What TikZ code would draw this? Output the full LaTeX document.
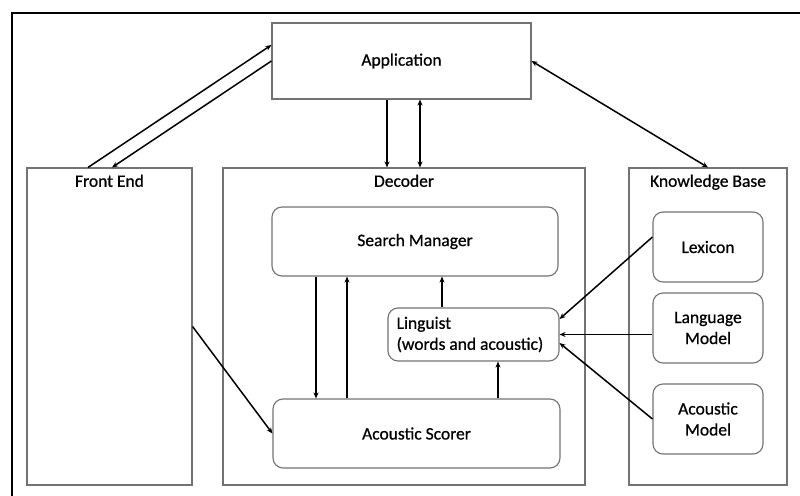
\documentclass[tikz,border=0pt]{standalone}
\usepackage{fontspec}
\setmainfont{Carlito}
\newfontfamily\diafont{Carlito}[FakeBold=0.7]
\usetikzlibrary{arrows.meta,calc}
\begin{document}
\begin{tikzpicture}[x=1pt,y=-1pt,
  every node/.style={font=\diafont\fontsize{17.5}{21}\selectfont, text=black},
  gbox/.style={draw=black!55, line width=1.1pt, inner sep=0pt},
  rbox/.style={gbox, rounded corners=10pt},
  lbl/.style={anchor=north, inner sep=0pt},
  arr/.style={draw=black, line width=1.5pt, -{Stealth[length=6pt,width=5pt]}},
  barr/.style={draw=black, line width=1.5pt, {Stealth[length=6pt,width=5pt]}-{Stealth[length=6pt,width=5pt]}}
]
\useasboundingbox (0,0) rectangle (800,495);
\fill[white] (0,0) rectangle (800,495);
% outer frame
\draw[line width=2pt] (12,497) -- (12,13) -- (802,13);

% containers
\node[gbox, minimum width=259pt, minimum height=76pt] (app) at (401.5,61) {Application};
\node[gbox, minimum width=165pt, minimum height=317pt] (fe) at (109.5,326.5) {};
\node[gbox, minimum width=362pt, minimum height=317pt] (dec) at (404,326.5) {};
\node[gbox, minimum width=158pt, minimum height=317pt] (kb) at (708,326.5) {};
\node[lbl] (fel) at ([yshift=-7pt]fe.north) {Front End};
\node[lbl] (decl) at ([yshift=-7pt]dec.north) {Decoder};
\node[lbl] (kbl) at ([yshift=-7pt]kb.north) {Knowledge Base};

% decoder components
\node[rbox, minimum width=286pt, minimum height=69pt] (sm) at (415,241.5) {Search Manager};
\node[rbox, minimum width=171pt, minimum height=53pt] (ling) at (473.5,334.5) {};
\node[anchor=west, align=left, inner sep=0pt] (lingt) at ([xshift=9pt]ling.west) {Linguist\\(words and acoustic)};
\node[rbox, minimum width=287pt, minimum height=69pt] (as) at (416.5,433.5) {Acoustic Scorer};

% knowledge base components
\node[rbox, minimum width=110pt, minimum height=70pt] (lex) at (708,247) {Lexicon};
\node[rbox, minimum width=110pt, minimum height=70pt, align=center] (lm) at (708,328) {Language\\Model};
\node[rbox, minimum width=110pt, minimum height=70pt, align=center] (am) at (708,419) {Acoustic\\Model};

% connectors
\draw[arr] ([xshift=-21.5pt]fe.north) -- ([yshift=16pt]app.west);
\draw[arr] (app.west) -- ([xshift=2.5pt]fe.north);
\draw[arr] ([xshift=-14.5pt]app.south) -- ([xshift=-14.5pt]app.south |- dec.north);
\draw[barr] ([xshift=18.5pt]app.south) -- ([xshift=18.5pt]app.south |- dec.north);
\draw[barr] (app.east) -- (kb.north);
\draw[arr] (fe.east) -- (as.west);
\draw[arr] ([xshift=-99pt]sm.south) -- ([xshift=-99pt]sm.south |- as.north);
\draw[arr] ([xshift=-68pt]sm.south |- as.north) -- ([xshift=-68pt]sm.south);
\draw[arr] ([xshift=-31.5pt]ling.north) -- ([xshift=-31.5pt]ling.north |- sm.south);
\draw[arr] ([xshift=81.5pt]as.north) -- ([xshift=81.5pt]as.north |- ling.south);
\draw[arr] ([yshift=10pt]lex.west) -- ([yshift=15.5pt]ling.east);
\draw[arr] (lm.west |- ling.east) -- (ling.east);
\draw[arr] (am.west) -- ([yshift=-8.5pt]ling.east);
\end{tikzpicture}
\end{document}
